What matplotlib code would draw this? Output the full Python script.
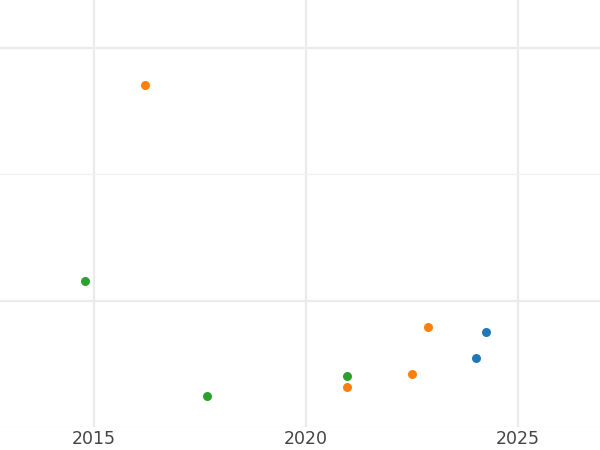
import matplotlib
matplotlib.use("Agg")
import matplotlib.pyplot as plt
from matplotlib.ticker import MultipleLocator

# Data (x = year, y = value in arbitrary units)
blue_x = [2024.01, 2024.25]
blue_y = [7.74, 8.77]
orange_x = [2016.20, 2020.97, 2022.49, 2022.88]
orange_y = [18.51, 6.58, 7.08, 8.94]
green_x = [2014.78, 2017.67, 2020.96]
green_y = [10.77, 6.24, 7.03]
x_ticks = [2015, 2020, 2025]

fig = plt.figure(figsize=(6, 4.5), dpi=100)
ax = fig.add_axes([0, 1 - 427 / 450, 1, 427 / 450])

ax.set_xlim(2012.78, 2026.93)
ax.set_ylim(5.0, 21.88)

ax.set_xticks(x_ticks)
ax.yaxis.set_major_locator(MultipleLocator(10))
ax.yaxis.set_minor_locator(MultipleLocator(5))

ax.grid(True, which="major", color="#ebebeb", linewidth=1.6)
ax.grid(True, which="minor", axis="y", color="#f0f0f0", linewidth=0.9)
ax.set_axisbelow(True)

for s in ax.spines.values():
    s.set_visible(False)
ax.tick_params(axis="both", which="both", length=0)
ax.tick_params(axis="x", labelsize=12.5, labelcolor="#444444", pad=2.5)
ax.tick_params(axis="y", labelleft=False)

ax.scatter(blue_x, blue_y, color="#1f77b4", s=42, zorder=3, linewidths=0)
ax.scatter(orange_x, orange_y, color="#ff7f0e", s=42, zorder=3, linewidths=0)
ax.scatter(green_x, green_y, color="#2ca02c", s=42, zorder=3, linewidths=0)

fig.savefig("out.png", dpi=100)
